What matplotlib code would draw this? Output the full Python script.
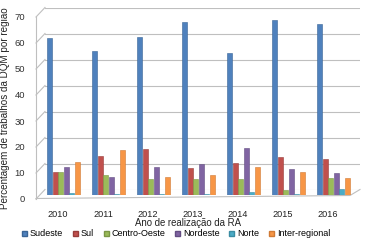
import matplotlib
matplotlib.use("Agg")
import matplotlib.pyplot as plt
from matplotlib.patches import Patch

years = ["2010", "2011", "2012", "2013", "2014", "2015", "2016"]
regions = ["Sudeste", "Sul", "Centro-Oeste", "Nordeste", "Norte", "Inter-regional"]
sudeste = [60.3, 55.4, 60.9, 66.7, 54.5, 67.3, 65.8]
sul = [9.0, 15.0, 17.7, 10.3, 12.4, 14.7, 13.7]
centro_oeste = [9.0, 7.7, 6.0, 6.2, 6.0, 1.8, 6.5]
nordeste = [10.9, 7.0, 10.6, 11.8, 18.0, 9.9, 8.3]
norte = [0.6, 0.3, 0.3, 0.3, 1.3, 0.3, 2.3]
inter_regional = [12.8, 17.3, 6.8, 7.7, 10.8, 8.7, 6.5]
series = [sudeste, sul, centro_oeste, nordeste, norte, inter_regional]
colors = ["#4F81BD", "#C0504D", "#9BBB59", "#8064A2", "#4BACC6", "#F79646"]
edge_colors = ["#3A6596", "#983C3A", "#7A9645", "#634D82", "#3A8CA3", "#D07A35"]
yticks = [0, 10, 20, 30, 40, 50, 60, 70]

W, H = 366, 240
fig = plt.figure(figsize=(W / 100, H / 100), dpi=100)
fig.patch.set_facecolor("white")

def rect(l, t, r, b):
    return [l / W, 1 - b / H, (r - l) / W, (b - t) / H]

grid_c = "#BFBFBF"

# overlay for 3D wall/floor decorations (pixel coords)
ov = fig.add_axes([0, 0, 1, 1], zorder=0)
ov.set_xlim(0, W)
ov.set_ylim(H, 0)
ov.axis("off")
ov.patch.set_alpha(0)

# back wall with gridlines
wall = fig.add_axes(rect(45, 7.5, 360, 189.5), zorder=1)
wall.set_xlim(0, 1)
wall.set_ylim(0, 70)
wall.axis("off")
wall.patch.set_alpha(0)
for v in yticks:
    wall.axhline(v, color=grid_c, lw=0.8)

# left wall diagonals and floor edges
for v in yticks:
    yf = 199 - 2.6 * v
    yb = 189.5 - 2.6 * v
    ov.plot([36, 45], [yf, yb], color=grid_c, lw=0.8)
ov.plot([36, 36], [199, 199 - 2.6 * 70], color=grid_c, lw=0.8)
ov.plot([36, 350, 360], [198.5, 195.5, 189.5], color=grid_c, lw=0.8)

# front axes carrying the y tick labels
front = fig.add_axes(rect(36, 17, 349, 199), zorder=2)
front.set_ylim(0, 70)
front.set_xlim(0, 1)
front.patch.set_alpha(0)
for s in front.spines.values():
    s.set_visible(False)
front.set_xticks([])
front.set_yticks(yticks)
front.set_yticklabels([str(v) for v in yticks], fontsize=6.8,
                      family="Liberation Sans", color="#333333")
front.tick_params(axis="y", length=0, pad=8)

# bars
ax = fig.add_axes(rect(41, 13, 356, 195), zorder=3)
ax.patch.set_alpha(0)
ax.set_xlim(-0.5, len(years) - 0.5)
ax.set_ylim(0, 70)
for s in ax.spines.values():
    s.set_visible(False)
ax.set_yticks([])
step = 0.124
width = 0.112
for j, (vals, c, ec, name) in enumerate(zip(series, colors, edge_colors, regions)):
    xs = [i + (j - 2.5) * step for i in range(len(years))]
    ax.bar(xs, vals, width=width, color=c, edgecolor=ec, lw=0.4, label=name)
ax.set_xticks([i - 0.12 for i in range(len(years))])
ax.set_xticklabels(years, fontsize=6.6, family="Liberation Sans", color="#222222")
ax.tick_params(axis="x", length=0, pad=11)

fig.text(188 / W, 1 - 223 / H, "Ano de realização da RA", ha="center", va="center",
         fontsize=6.9, family="Liberation Sans", color="#222222")
fig.text(5.5 / W, 1 - 108 / H, "Percentagem de trabalhos da DQM por região",
         rotation=90, ha="center", va="center", fontsize=7.1,
         family="Liberation Sans", color="#222222")

handles = [Patch(facecolor=c, edgecolor=ec) for c, ec in zip(colors, edge_colors)]
fig.legend(handles, regions, loc="center", bbox_to_anchor=(176 / W, 1 - 234 / H),
           ncol=6, frameon=False, prop={"family": "Liberation Sans", "size": 6.5},
           handlelength=0.55, handleheight=0.55, handletextpad=0.3, columnspacing=1.1,
           borderpad=0, borderaxespad=0)

fig.savefig("out.png", dpi=100, facecolor="white")
